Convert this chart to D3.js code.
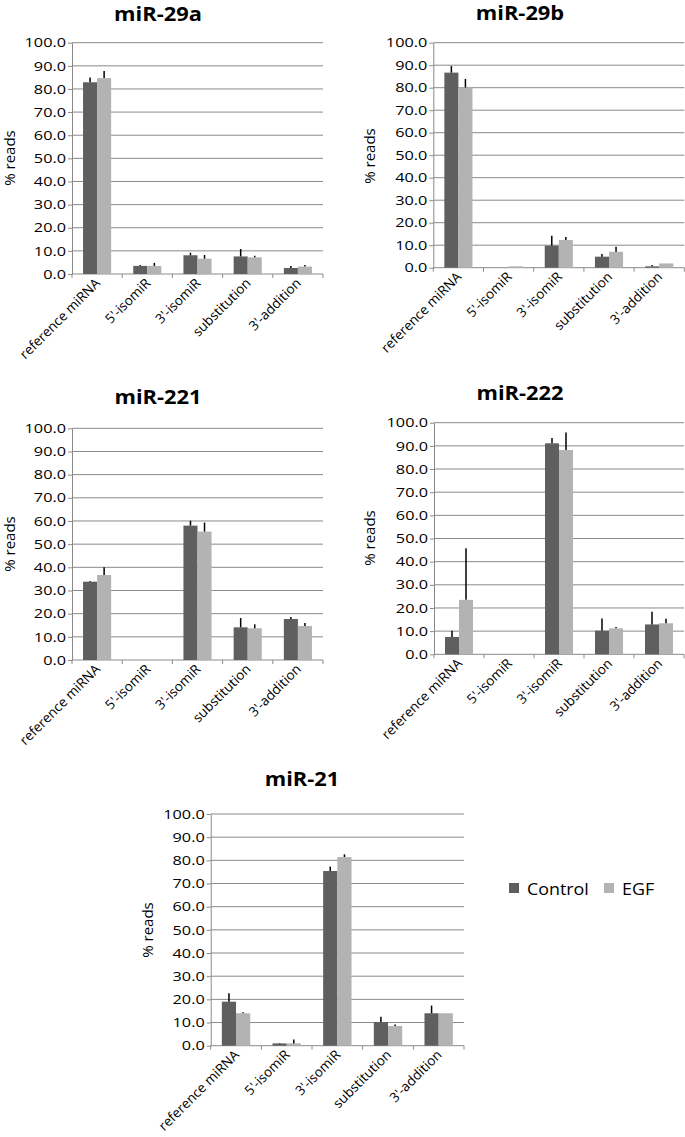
<!DOCTYPE html>
<html>
<head>
<meta charset="utf-8">
<script src="https://cdn.jsdelivr.net/npm/d3@7"></script>
<style>
  body { margin: 0; background: #fff; }
  svg { display: block; font-family: "Open Sans", sans-serif; }
</style>
</head>
<body>
<svg id="chart" width="685" height="1137"></svg>
<script>
const categories = ["reference miRNA", "5'-isomiR", "3'-isomiR", "substitution", "3'-addition"];
const seriesNames = ["Control", "EGF"];
const panelTitles = ["miR-29a", "miR-29b", "miR-221", "miR-222", "miR-21"];

// mean % reads, one row per panel
const controlMeans = [
    [82.9, 3.5, 8.1, 7.6, 2.6],
    [86.7, 0.0, 9.8, 4.9, 0.6],
    [33.8, 0.0, 58.0, 14.1, 17.7],
    [7.5, 0.0, 91.1, 10.2, 12.9],
    [19.0, 1.0, 75.4, 10.2, 14.0]
];
const egfMeans = [
    [84.7, 3.5, 6.6, 7.2, 3.2],
    [80.1, 0.6, 12.3, 7.1, 1.9],
    [36.7, 0.0, 55.4, 13.7, 14.7],
    [23.5, 0.0, 88.2, 11.2, 13.4],
    [14.0, 1.0, 81.4, 8.5, 14.0]
];
// upper error (sd)
const controlErrors = [
    [2.1, 0.4, 1.1, 3.2, 0.9],
    [2.9, 0.0, 4.4, 1.2, 0.6],
    [0.3, 0.0, 2.1, 4.0, 0.9],
    [2.7, 0.0, 2.3, 5.3, 5.5],
    [3.6, 0.2, 1.9, 2.3, 3.3]
];
const egfErrors = [
    [3.1, 1.3, 1.6, 0.7, 0.7],
    [3.8, 0.0, 1.3, 2.2, 0.0],
    [3.3, 0.0, 3.9, 1.7, 1.3],
    [22.3, 0.0, 7.6, 0.6, 1.9],
    [0.4, 1.7, 1.2, 0.7, 0.0]
];
const yTickValues = [0, 10, 20, 30, 40, 50, 60, 70, 80, 90, 100];

const color = d3.scaleOrdinal().domain(seriesNames).range(["#5f5f5f", "#b3b3b3"]);
const gridColor = "#8a8a8a";

const panels = [
    {left: 72, right: 323, top: 42.7, bottom: 274, titleX: 158, titleY: 21, labelX: 15, labelY: 158},
    {left: 433.3, right: 684.3, top: 42.7, bottom: 267.7, titleX: 520, titleY: 20, labelX: 375, labelY: 156},
    {left: 72, right: 323, top: 428.3, bottom: 660, titleX: 158, titleY: 404, labelX: 15, labelY: 544},
    {left: 434, right: 684, top: 422.7, bottom: 654.3, titleX: 520, titleY: 400, labelX: 375, labelY: 538},
    {left: 210.7, right: 464, top: 814, bottom: 1045.7, titleX: 302, titleY: 786, labelX: 153, labelY: 930}
];

// widen text horizontally (the source figure is stretched sideways)
const stretch = (sel, k) => sel.each(function () {
    const len = this.getComputedTextLength();
    d3.select(this).attr("textLength", len * k).attr("lengthAdjust", "spacingAndGlyphs");
});

const svg = d3.select("#chart");

panels.forEach((p, i) => {
    const g = svg.append("g");

    const x0 = d3.scaleBand()
        .domain(categories)
        .range([p.left, p.right])
        .paddingInner(0.44)
        .paddingOuter(0.22);

    const x1 = d3.scaleBand()
        .domain(seriesNames)
        .range([0, x0.bandwidth()]);

    const y = d3.scaleLinear()
        .domain([0, 100])
        .range([p.bottom, p.top]);

    // gridlines
    g.append("g")
        .selectAll("line")
        .data(yTickValues.slice(1))
        .join("line")
        .attr("x1", p.left)
        .attr("x2", p.right)
        .attr("y1", d => y(d))
        .attr("y2", d => y(d))
        .attr("stroke", gridColor);

    // y axis
    g.append("g")
        .attr("transform", `translate(${p.left},0)`)
        .call(d3.axisLeft(y).tickValues(yTickValues).tickFormat(d3.format(".1f")).tickSize(4).tickSizeOuter(0).tickPadding(2))
        .attr("font-family", null)
        .call(a => a.select(".domain").attr("stroke", gridColor))
        .call(a => a.selectAll(".tick line").attr("stroke", gridColor))
        .call(a => a.selectAll("text").attr("font-size", 13).attr("fill", "#000").call(stretch, 1.25));

    // x axis line + boundary ticks
    const half = x0.step() * x0.paddingInner() / 2;
    const bounds = categories.map(c => x0(c) - half).concat([p.right]);
    g.append("line")
        .attr("x1", p.left).attr("x2", p.right)
        .attr("y1", p.bottom).attr("y2", p.bottom)
        .attr("stroke", gridColor);
    g.append("g")
        .selectAll("line")
        .data(bounds)
        .join("line")
        .attr("x1", d => d).attr("x2", d => d)
        .attr("y1", p.bottom).attr("y2", p.bottom + 4)
        .attr("stroke", gridColor);

    // x labels
    g.append("g")
        .selectAll("text")
        .data(categories)
        .join("text")
        .attr("transform", d => `translate(${x0(d) + x0.bandwidth() / 2 + 4},${p.bottom + 10}) rotate(-45)`)
        .attr("text-anchor", "end")
        .attr("font-size", 13.5)
        .text(d => d);

    // bars
    const rows = categories.map((c, j) => ({
        cat: c,
        vals: [
            {key: "Control", value: controlMeans[i][j], err: controlErrors[i][j]},
            {key: "EGF", value: egfMeans[i][j], err: egfErrors[i][j]}
        ]
    }));

    const grp = g.append("g")
        .selectAll("g")
        .data(rows)
        .join("g")
        .attr("transform", d => `translate(${x0(d.cat)},0)`);

    grp.selectAll("rect")
        .data(d => d.vals)
        .join("rect")
        .attr("x", d => x1(d.key))
        .attr("y", d => y(d.value))
        .attr("width", x1.bandwidth())
        .attr("height", d => y(0) - y(d.value))
        .attr("fill", d => color(d.key));

    grp.selectAll("line")
        .data(d => d.vals.filter(v => v.err > 0))
        .join("line")
        .attr("x1", d => x1(d.key) + x1.bandwidth() / 2)
        .attr("x2", d => x1(d.key) + x1.bandwidth() / 2)
        .attr("y1", d => y(d.value))
        .attr("y2", d => y(d.value + d.err))
        .attr("stroke", "#000")
        .attr("stroke-width", 1.5);

    // title
    g.append("text")
        .attr("x", p.titleX)
        .attr("y", p.titleY)
        .attr("text-anchor", "middle")
        .attr("font-size", 19)
        .attr("font-weight", "bold")
        .text(panelTitles[i])
        .call(stretch, 1.15);

    // y label
    g.append("text")
        .attr("transform", `translate(${p.labelX},${p.labelY}) rotate(-90)`)
        .attr("text-anchor", "middle")
        .attr("font-size", 15)
        .text("% reads");
});

// legend
const legend = svg.append("g")
    .attr("transform", "translate(509,883)")
    .selectAll("g")
    .data(seriesNames)
    .join("g")
    .attr("transform", (d, i) => `translate(${i * 95},0)`);

legend.append("rect")
    .attr("width", 10)
    .attr("height", 10)
    .attr("fill", d => color(d));

legend.append("text")
    .attr("x", 18)
    .attr("y", 12)
    .attr("font-size", 17)
    .text(d => d)
    .call(stretch, 1.05);
</script>
</body>
</html>
